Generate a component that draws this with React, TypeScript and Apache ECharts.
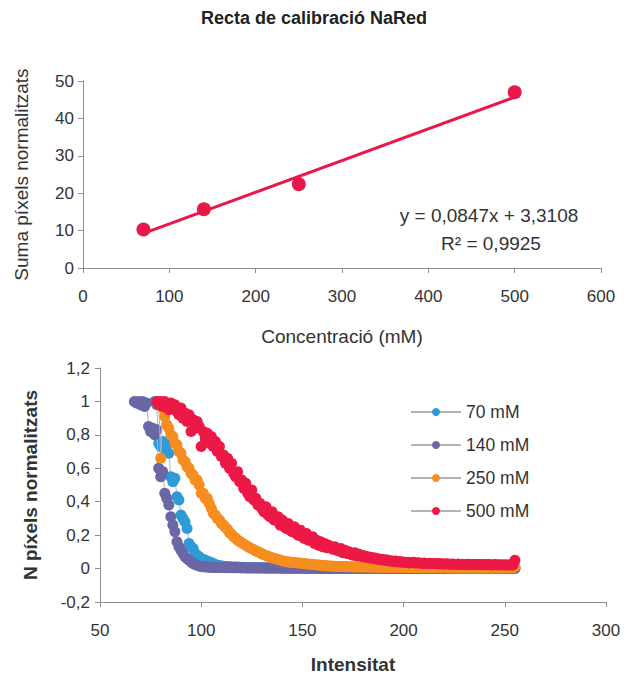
import React, { useEffect, useRef } from "react";
import * as echarts from "echarts";

// ---------- Top chart: calibration line ----------
const concentrations = [70, 140, 250, 500];
const sumaPixels = [10.3, 15.7, 22.4, 47.0];
const trendX = [70, 500];
const trendY = [9.24, 45.66];
const equationText = "y = 0,0847x + 3,3108";
const r2Text = "R² = 0,9925";

// ---------- Bottom chart: normalised pixel curves (one value per intensity step) ----------
const seriesNames = ["70 mM", "140 mM", "250 mM", "500 mM"];

const start70 = 77;
const vals70 = [
  1.0, 0.98, 0.75, 0.73, 0.76, 0.71, 0.74, 0.69, 0.55, 0.52,
  0.54, 0.43, 0.41, 0.32, 0.3, 0.28, 0.24, 0.15, 0.13, 0.12,
  0.09, 0.08, 0.07, 0.06, 0.055, 0.05, 0.045, 0.04, 0.035, 0.03,
  0.025, 0.02, 0.018, 0.016, 0.014, 0.013, 0.012, 0.011, 0.01, 0.01,
  0.009, 0.009, 0.008, 0.008, 0.007, 0.007, 0.007, 0.006, 0.006, 0.006,
  0.005, 0.005, 0.005, 0.005, 0.005, 0.004, 0.004, 0.004, 0.004, 0.004,
  0.004, 0.004, 0.003, 0.003, 0.003, 0.003, 0.003, 0.003, 0.003, 0.003,
  0.003, 0.003, 0.003, 0.002, 0.002, 0.002, 0.002, 0.002, 0.002, 0.002,
  0.002, 0.002, 0.002, 0.002, 0.002, 0.002, 0.002, 0.002, 0.002, 0.002,
  0.002, 0.002, 0.002, 0.002, 0.002, 0.002, 0.002, 0.002, 0.002, 0.002,
  0.002, 0.002, 0.002, 0.002, 0.002, 0.002, 0.002, 0.002, 0.002, 0.002,
  0.002, 0.002, 0.002, 0.002, 0.002, 0.002, 0.002, 0.002, 0.002, 0.002,
  0.002, 0.002, 0.002, 0.002, 0.002, 0.002, 0.002, 0.002, 0.002, 0.002,
  0.002, 0.002, 0.002, 0.002, 0.002, 0.002, 0.002, 0.002, 0.002, 0.002,
  0.002, 0.002, 0.002, 0.002, 0.002, 0.002, 0.002, 0.002, 0.002, 0.002,
  0.002, 0.002, 0.002, 0.002, 0.002, 0.002, 0.002, 0.002, 0.002, 0.002,
  0.002, 0.002, 0.002, 0.002, 0.002, 0.002, 0.002, 0.002, 0.002, 0.002,
  0.002, 0.002, 0.002, 0.002, 0.002, 0.002, 0.002, 0.002, 0.002,
];

const start140 = 67;
const vals140 = [
  1.0, 0.99, 1.0, 0.98, 1.0, 0.97, 0.99, 0.85, 0.82, 0.84,
  0.8, 0.83, 0.6, 0.55, 0.58, 0.45, 0.42, 0.38, 0.31, 0.26,
  0.22, 0.16, 0.13, 0.11, 0.09, 0.07, 0.06, 0.05, 0.04, 0.03,
  0.025, 0.02, 0.016, 0.013, 0.011, 0.01, 0.009, 0.008, 0.008, 0.007,
  0.007, 0.007, 0.006, 0.006, 0.006, 0.006, 0.005, 0.006, 0.005, 0.005,
  0.005, 0.005, 0.005, 0.004, 0.005, 0.004, 0.004, 0.004, 0.004, 0.004,
  0.004, 0.004, 0.003, 0.004, 0.003, 0.003, 0.003, 0.003, 0.003, 0.003,
  0.003, 0.003, 0.003, 0.002, 0.003, 0.002, 0.002, 0.002, 0.002, 0.002,
  0.002, 0.002, 0.002, 0.002, 0.002, 0.002, 0.002, 0.002, 0.002, 0.002,
  0.002, 0.002, 0.001, 0.002, 0.001, 0.001, 0.001, 0.001, 0.001, 0.001,
  0.001, 0.001, 0.001, 0.001, 0.001, 0.001, 0.001, 0.001, 0.001, 0.001,
  0.001, 0.001, 0.001, 0.001, 0.001, 0.001, 0.001, 0.001, 0.001, 0.001,
  0.001, 0.001, 0.001, 0.001, 0.001, 0.001, 0.001, 0.001, 0.001, 0.001,
  0.001, 0.001, 0.001, 0.001, 0.001, 0.001, 0.001, 0.001, 0.001, 0.001,
  0.001, 0.001, 0.001, 0.001, 0.001, 0.001, 0.001, 0.001, 0.001, 0.001,
  0.001, 0.001, 0.001, 0.001, 0.001, 0.001, 0.001, 0.001, 0.001, 0.001,
  0.001, 0.001, 0.001, 0.001, 0.001, 0.001, 0.001, 0.001, 0.001, 0.001,
  0.001, 0.001, 0.001, 0.001, 0.001, 0.001, 0.001, 0.001, 0.001, 0.001,
  0.001, 0.001, 0.001, 0.001, 0.001, 0.001, 0.001, 0.001, 0.001,
];

const start250 = 79;
const vals250 = [
  1.0, 0.66, 0.96, 0.91, 0.86, 0.84, 0.8, 0.79, 0.75, 0.74,
  0.7, 0.69, 0.65, 0.64, 0.61, 0.6, 0.57, 0.56, 0.53, 0.53,
  0.5, 0.45, 0.45, 0.42, 0.42, 0.39, 0.36, 0.33, 0.32, 0.3,
  0.29, 0.27, 0.26, 0.245, 0.235, 0.215, 0.205, 0.19, 0.183, 0.17,
  0.162, 0.155, 0.147, 0.14, 0.132, 0.125, 0.118, 0.112, 0.105, 0.1,
  0.094, 0.088, 0.083, 0.078, 0.073, 0.069, 0.065, 0.061, 0.058, 0.055,
  0.05, 0.047, 0.044, 0.042, 0.04, 0.038, 0.037, 0.036, 0.035, 0.034,
  0.033, 0.031, 0.03, 0.028, 0.027, 0.026, 0.025, 0.024, 0.022, 0.021,
  0.02, 0.019, 0.018, 0.017, 0.016, 0.015, 0.014, 0.014, 0.013, 0.013,
  0.012, 0.012, 0.012, 0.011, 0.011, 0.011, 0.01, 0.01, 0.01, 0.01,
  0.009, 0.009, 0.009, 0.009, 0.008, 0.009, 0.008, 0.008, 0.008, 0.008,
  0.008, 0.007, 0.008, 0.007, 0.007, 0.007, 0.007, 0.007, 0.006, 0.007,
  0.006, 0.007, 0.006, 0.006, 0.006, 0.006, 0.006, 0.006, 0.006, 0.005,
  0.006, 0.005, 0.006, 0.005, 0.005, 0.005, 0.005, 0.005, 0.005, 0.005,
  0.005, 0.005, 0.005, 0.004, 0.005, 0.004, 0.005, 0.004, 0.004, 0.004,
  0.004, 0.004, 0.004, 0.004, 0.004, 0.004, 0.004, 0.004, 0.004, 0.004,
  0.004, 0.003, 0.004, 0.003, 0.004, 0.003, 0.003, 0.003, 0.003, 0.003,
  0.003, 0.003, 0.003, 0.003, 0.003, 0.003, 0.012,
];

const start500 = 78;
const vals500 = [
  1.0, 0.98, 1.0, 0.97, 1.0, 0.98, 0.95, 0.99, 0.96, 0.98,
  0.94, 0.92, 0.96, 0.9, 0.93, 0.88, 0.92, 0.82, 0.89, 0.84,
  0.88, 0.85, 0.73, 0.82, 0.78, 0.81, 0.75, 0.79, 0.73, 0.76,
  0.7, 0.73, 0.67, 0.68, 0.63, 0.66, 0.6, 0.63, 0.57, 0.55,
  0.58, 0.52, 0.53, 0.48, 0.51, 0.45, 0.43, 0.47, 0.41, 0.42,
  0.38, 0.39, 0.36, 0.34, 0.37, 0.32, 0.31, 0.34, 0.29, 0.3,
  0.31, 0.26, 0.29, 0.25, 0.24, 0.27, 0.23, 0.22, 0.25, 0.21,
  0.2, 0.23, 0.19, 0.18, 0.21, 0.17, 0.17, 0.19, 0.15, 0.17,
  0.14, 0.16, 0.13, 0.15, 0.125, 0.14, 0.13, 0.115, 0.13, 0.11,
  0.105, 0.12, 0.095, 0.11, 0.09, 0.1, 0.085, 0.08, 0.095, 0.075,
  0.085, 0.072, 0.078, 0.068, 0.072, 0.064, 0.068, 0.06, 0.063, 0.056,
  0.058, 0.052, 0.055, 0.048, 0.051, 0.045, 0.047, 0.042, 0.045, 0.04,
  0.043, 0.038, 0.04, 0.036, 0.038, 0.034, 0.036, 0.038, 0.033, 0.035,
  0.034, 0.031, 0.033, 0.03, 0.031, 0.032, 0.029, 0.03, 0.031, 0.028,
  0.03, 0.028, 0.027, 0.029, 0.027, 0.026, 0.028, 0.026, 0.025, 0.027,
  0.025, 0.026, 0.025, 0.024, 0.026, 0.024, 0.025, 0.024, 0.023, 0.025,
  0.024, 0.023, 0.024, 0.023, 0.024, 0.023, 0.022, 0.024, 0.023, 0.022,
  0.023, 0.022, 0.023, 0.022, 0.022, 0.023, 0.022, 0.05,
];

const xTicks1 = { min: 0, max: 600, interval: 100 };
const yTicks1 = { min: 0, max: 50, interval: 10 };
const xTicks2 = { min: 50, max: 300, interval: 50 };
const yTicks2 = { min: -0.2, max: 1.2, interval: 0.2 };

const colors = ["#2E9BD8", "#6B67A6", "#F68D1F", "#EC1946"];
const topRed = "#E8194A";
const FONT = "'Liberation Sans', Arial, sans-serif";
const TXT = "#333333";
const AXIS = "#8f8f8f";

function toPairs(start: number, vals: number[]) {
  return vals.map((v, i) => [start + i, v]);
}

const commaFmt = (v: number) => String(Number(v.toFixed(1))).replace(".", ",");

export default function App() {
  const ref = useRef<HTMLDivElement>(null);
  useEffect(() => {
    if (!ref.current) return;
    const chart = echarts.init(ref.current, undefined, { renderer: "svg" });
    const axisCommon = {
      axisLine: { show: true, onZero: false, lineStyle: { color: AXIS, width: 1 } },
      axisTick: { show: true, inside: false, length: 5, lineStyle: { color: AXIS } },
      splitLine: { show: false },
    };
    const bottomSeries = [
      [start70, vals70],
      [start140, vals140],
      [start250, vals250],
      [start500, vals500],
    ].map(([s, v], i) => ({
      name: seriesNames[i],
      type: "line",
      xAxisIndex: 1,
      yAxisIndex: 1,
      data: toPairs(s as number, v as number[]),
      symbol: "circle",
      symbolSize: 11,
      showAllSymbol: true,
      itemStyle: { color: colors[i], opacity: 1 },
      lineStyle: { color: "#b3b3b3", width: 1 },
      z: 2 + i,
    }));

    chart.setOption({
      animation: false,
      backgroundColor: "#ffffff",
      textStyle: { fontFamily: FONT },
      grid: [
        { left: 83, top: 81, width: 518, height: 187 },
        { left: 100, top: 368, width: 506, height: 234 },
      ],
      xAxis: [
        {
          gridIndex: 0,
          type: "value",
          ...xTicks1,
          ...axisCommon,
          axisLabel: { margin: 20, fontSize: 17, color: TXT, fontFamily: FONT },
          name: "Concentració (mM)",
          nameLocation: "middle",
          nameGap: 59,
          nameTextStyle: { fontSize: 19, color: TXT, fontFamily: FONT },
        },
        {
          gridIndex: 1,
          type: "value",
          ...xTicks2,
          ...axisCommon,
          axisLabel: { margin: 20, fontSize: 17, color: TXT, fontFamily: FONT },
          name: "Intensitat",
          nameLocation: "middle",
          nameGap: 53,
          nameTextStyle: { fontSize: 19, fontWeight: "bold", color: TXT, fontFamily: FONT },
        },
      ],
      yAxis: [
        {
          gridIndex: 0,
          type: "value",
          ...yTicks1,
          ...axisCommon,
          axisLabel: { margin: 9, fontSize: 17, color: TXT, fontFamily: FONT },
          name: "Suma píxels normalitzats",
          nameLocation: "middle",
          nameRotate: 90,
          nameGap: 52,
          nameTextStyle: { fontSize: 19, color: TXT, fontFamily: FONT },
        },
        {
          gridIndex: 1,
          type: "value",
          ...yTicks2,
          ...axisCommon,
          axisLabel: { margin: 10, fontSize: 17, color: TXT, fontFamily: FONT, formatter: commaFmt },
          name: "N píxels normalitzats",
          nameLocation: "middle",
          nameRotate: 90,
          nameGap: 60,
          nameTextStyle: { fontSize: 19, fontWeight: "bold", color: TXT, fontFamily: FONT },
        },
      ],
      legend: {
        data: seriesNames,
        orient: "vertical",
        left: 405,
        top: 398,
        itemWidth: 50,
        itemHeight: 10,
        itemGap: 15,
        textStyle: { fontSize: 17.5, color: TXT, fontFamily: FONT },
      },
      graphic: [
        {
          type: "text",
          x: 314,
          y: 18,
          style: {
            text: "Recta de calibració NaRed",
            fontSize: 18,
            fontWeight: "bold",
            fontFamily: FONT,
            fill: "#222",
            align: "center",
            verticalAlign: "middle",
          },
        },
        {
          type: "text",
          x: 489,
          y: 215,
          z: 10,
          style: {
            text: equationText,
            fontSize: 19,
            fontFamily: FONT,
            fill: TXT,
            align: "center",
            verticalAlign: "middle",
          },
        },
        {
          type: "text",
          x: 491,
          y: 243,
          z: 10,
          style: {
            text: r2Text,
            fontSize: 19,
            fontFamily: FONT,
            fill: TXT,
            align: "center",
            verticalAlign: "middle",
          },
        },
      ],
      series: [
        {
          type: "line",
          xAxisIndex: 0,
          yAxisIndex: 0,
          data: trendX.map((x, i) => [x, trendY[i]]),
          showSymbol: false,
          lineStyle: { color: topRed, width: 3 },
          z: 2,
        },
        {
          type: "scatter",
          xAxisIndex: 0,
          yAxisIndex: 0,
          data: concentrations.map((c, i) => [c, sumaPixels[i]]),
          symbol: "circle",
          symbolSize: 14,
          itemStyle: { color: topRed, opacity: 1 },
          z: 3,
        },
        ...bottomSeries,
      ],
    });
    return () => chart.dispose();
  }, []);
  return (
    <div
      ref={ref}
      style={{ position: "fixed", left: 0, top: 0, width: 637, height: 677, background: "#fff" }}
    />
  );
}
